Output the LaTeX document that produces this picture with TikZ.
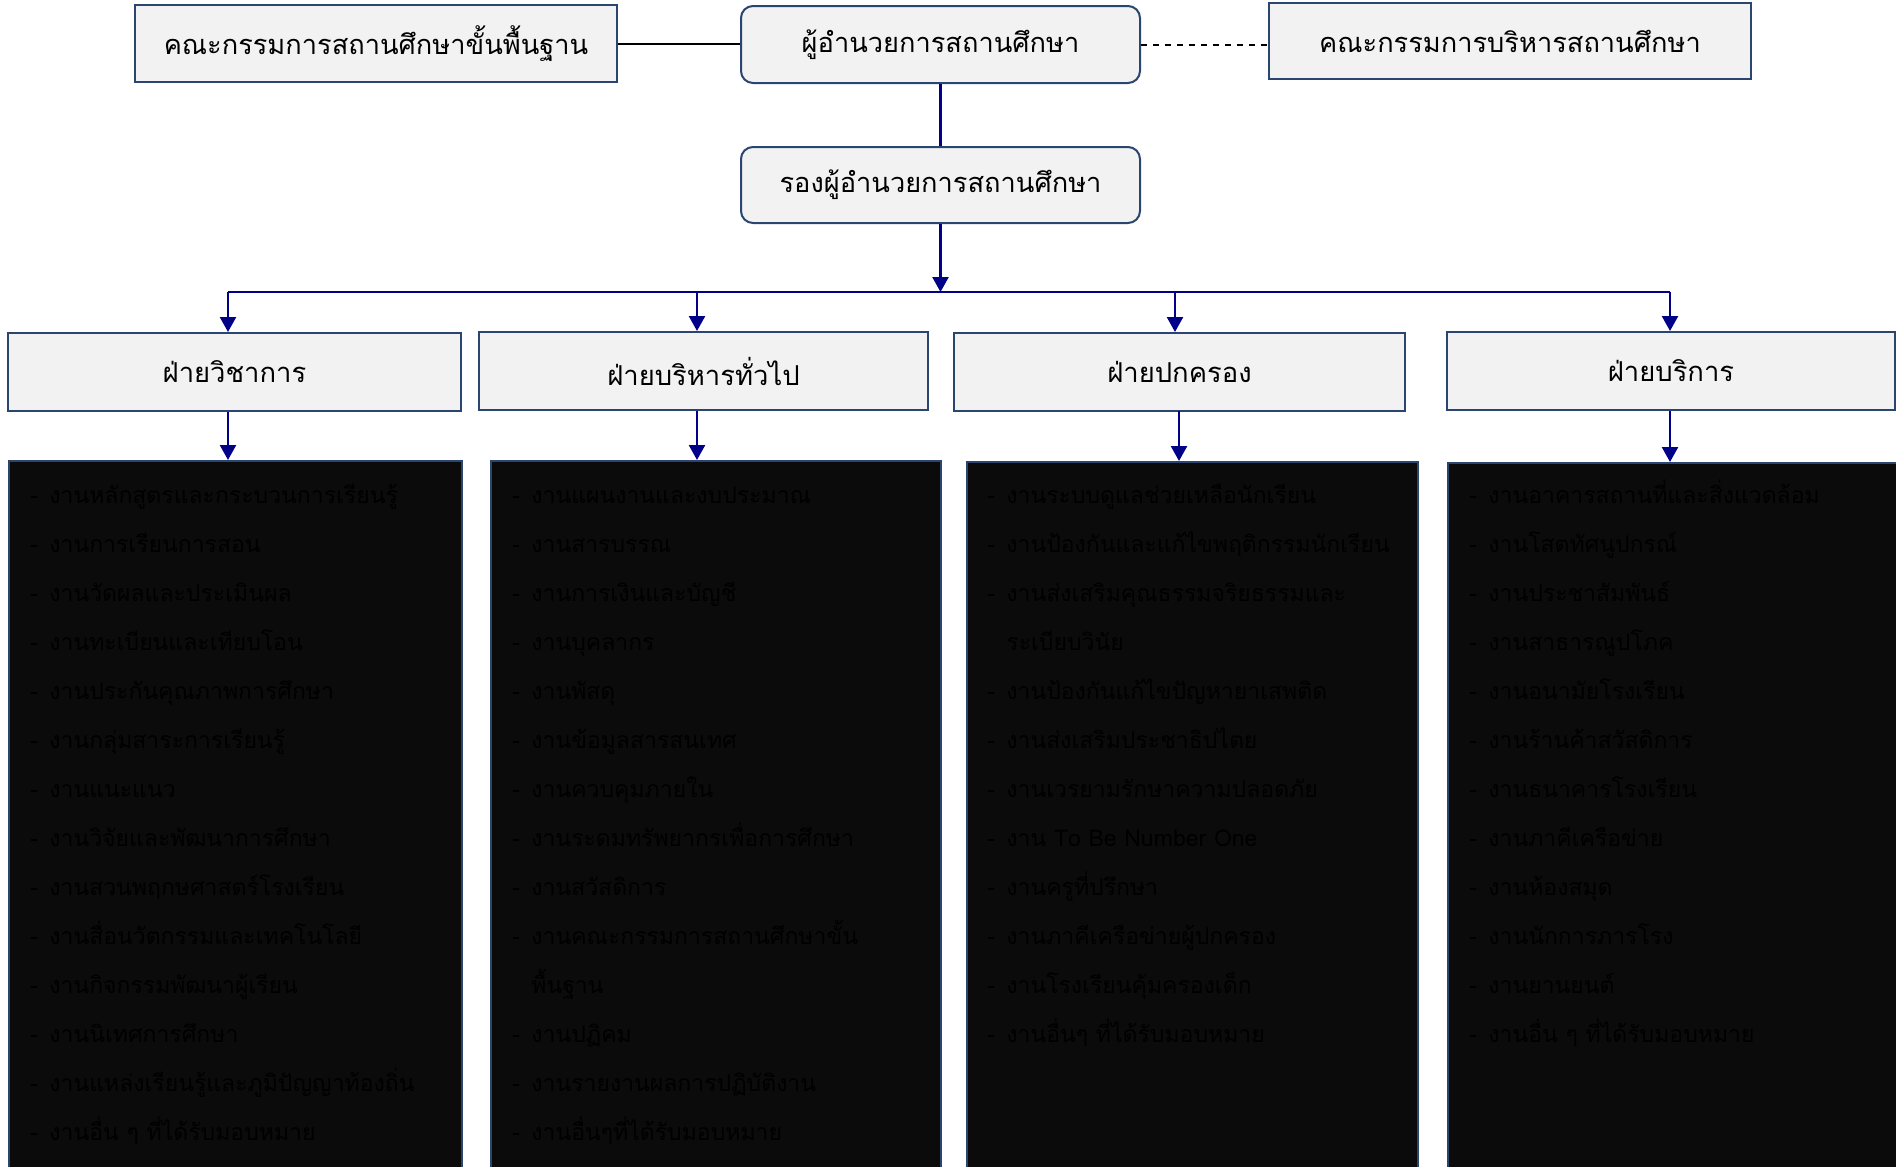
\documentclass[tikz,border=0pt]{standalone}
\usepackage{fontspec}
\setmainfont{Loma}[Script=Thai]
\usetikzlibrary{arrows.meta}
\definecolor{boxfill}{HTML}{F2F2F2}
\definecolor{boxline}{HTML}{2A4670}
\definecolor{connc}{HTML}{000088}
\definecolor{listfill}{HTML}{0B0B0B}
\newcommand\dsh{\makebox[9.5pt][l]{-}}
\newcommand\ndsh{\hspace*{9.5pt}}
\tikzset{
  topbox/.style={rectangle, fill=boxfill, draw=boxline, line width=1pt, inner sep=0pt,
    font=\fontsize{13.6pt}{16pt}\selectfont, text=black},
  roundbox/.style={topbox, rounded corners=6pt},
  divbox/.style={topbox, minimum height=39pt, font=\fontsize{13.7pt}{16pt}\selectfont},
  listbox/.style={rectangle, fill=listfill, draw=boxline, line width=0.8pt, inner sep=0pt, anchor=north west},
  item/.style={anchor=base west, inner sep=0pt, text=black, font=\fontsize{11.5pt}{14pt}\selectfont},
  plainline/.style={draw=black, line width=1pt},
  dashline/.style={draw=black, line width=1pt, dash pattern=on 3pt off 3pt},
  conn/.style={draw=connc, line width=1.2pt},
  arr/.style={conn, -{Triangle[length=7.5pt,width=8pt]}, fill=connc}
}
\begin{document}
\begin{tikzpicture}[x=0.5pt,y=-0.5pt]
\clip (0,0) rectangle (1896,1167);
\fill[white] (0,0) rectangle (1896,1167);

% top row
\node[topbox, minimum width=241pt, minimum height=38.5pt] (A) at (376,43.5) {คณะกรรมการสถานศึกษาขั้นพื้นฐาน};
\node[roundbox, minimum width=199.5pt, minimum height=38.5pt] (D) at (940.5,44.5) {ผู้อำนวยการสถานศึกษา};
\node[topbox, minimum width=241pt, minimum height=38pt] (C) at (1510,41) {คณะกรรมการบริหารสถานศึกษา};
\node[roundbox, minimum width=199.5pt, minimum height=38pt] (V) at (940.5,185) {รองผู้อำนวยการสถานศึกษา};

\draw[plainline] (A.east) -- (A.east -| D.west);
\draw[dashline] (D.east) -- (D.east -| C.west);
\draw[conn] (D.south) -- (V.north);

% bus
\coordinate (bus) at (940.5,292);
\coordinate (b1) at (228,292);
\coordinate (b2) at (697,292);
\coordinate (b3) at (1175,292);
\coordinate (b4) at (1670,292);
\draw[arr] (V.south) -- (bus);
\draw[conn] (b1) -- (b4);

% divisions
\node[divbox, minimum width=226.5pt] (F1) at (234.5,372) {ฝ่ายวิชาการ};
\node[divbox, minimum width=224.5pt] (F2) at (703.5,371) {ฝ่ายบริหารทั่วไป};
\node[divbox, minimum width=225.5pt] (F3) at (1179.5,372) {ฝ่ายปกครอง};
\node[divbox, minimum width=224pt] (F4) at (1671,371) {ฝ่ายบริการ};

\draw[arr] (b1) -- (b1 |- F1.north);
\draw[arr] (b2) -- (b2 |- F2.north);
\draw[arr] (b3) -- (b3 |- F3.north);
\draw[arr] (b4) -- (b4 |- F4.north);

% lists
\node[listbox, minimum width=226.5pt, minimum height=365pt] (L1) at (8,460) {};
\node[listbox, minimum width=225pt, minimum height=365pt] (L2) at (490,460) {};
\node[listbox, minimum width=225.5pt, minimum height=365pt] (L3) at (966,461) {};
\node[listbox, minimum width=230pt, minimum height=365pt] (L4) at (1447,462) {};

\draw[arr] (F1.south -| b1) -- (b1 |- L1.north);
\draw[arr] (F2.south -| b2) -- (b2 |- L2.north);
\coordinate (c3) at (1179,411);
\draw[arr] (c3) -- (c3 |- L3.north);
\draw[arr] (F4.south -| b4) -- (b4 |- L4.north);

\foreach \t [count=\i] in {
  \dsh งานหลักสูตรและกระบวนการเรียนรู้,
  \dsh งานการเรียนการสอน,
  \dsh งานวัดผลและประเมินผล,
  \dsh งานทะเบียนและเทียบโอน,
  \dsh งานประกันคุณภาพการศึกษา,
  \dsh งานกลุ่มสาระการเรียนรู้,
  \dsh งานแนะแนว,
  \dsh งานวิจัยและพัฒนาการศึกษา,
  \dsh งานสวนพฤกษศาสตร์โรงเรียน,
  \dsh งานสื่อนวัตกรรมและเทคโนโลยี,
  \dsh งานกิจกรรมพัฒนาผู้เรียน,
  \dsh งานนิเทศการศึกษา,
  \dsh งานแหล่งเรียนรู้และภูมิปัญญาท้องถิ่น,
  \dsh งานอื่น ๆ ที่ได้รับมอบหมาย}
  \node[item] (pa\i) at (30,{503+49*(\i-1)}) {\t};

\foreach \t [count=\i] in {
  \dsh งานแผนงานและงบประมาณ,
  \dsh งานสารบรรณ,
  \dsh งานการเงินและบัญชี,
  \dsh งานบุคลากร,
  \dsh งานพัสดุ,
  \dsh งานข้อมูลสารสนเทศ,
  \dsh งานควบคุมภายใน,
  \dsh งานระดมทรัพยากรเพื่อการศึกษา,
  \dsh งานสวัสดิการ,
  \dsh งานคณะกรรมการสถานศึกษาขั้น,
  \ndsh พื้นฐาน,
  \dsh งานปฏิคม,
  \dsh งานรายงานผลการปฏิบัติงาน,
  \dsh งานอื่นๆที่ได้รับมอบหมาย}
  \node[item] (pb\i) at (512,{503+49*(\i-1)}) {\t};

\foreach \t [count=\i] in {
  \dsh งานระบบดูแลช่วยเหลือนักเรียน,
  \dsh งานป้องกันและแก้ไขพฤติกรรมนักเรียน,
  \dsh งานส่งเสริมคุณธรรมจริยธรรมและ,
  \ndsh ระเบียบวินัย,
  \dsh งานป้องกันแก้ไขปัญหายาเสพติด,
  \dsh งานส่งเสริมประชาธิปไตย,
  \dsh งานเวรยามรักษาความปลอดภัย,
  \dsh งาน To Be Number One,
  \dsh งานครูที่ปรึกษา,
  \dsh งานภาคีเครือข่ายผู้ปกครอง,
  \dsh งานโรงเรียนคุ้มครองเด็ก,
  \dsh งานอื่นๆ ที่ได้รับมอบหมาย}
  \node[item] (pc\i) at (987,{503+49*(\i-1)}) {\t};

\foreach \t [count=\i] in {
  \dsh งานอาคารสถานที่และสิ่งแวดล้อม,
  \dsh งานโสตทัศนูปกรณ์,
  \dsh งานประชาสัมพันธ์,
  \dsh งานสาธารณูปโภค,
  \dsh งานอนามัยโรงเรียน,
  \dsh งานร้านค้าสวัสดิการ,
  \dsh งานธนาคารโรงเรียน,
  \dsh งานภาคีเครือข่าย,
  \dsh งานห้องสมุด,
  \dsh งานนักการภารโรง,
  \dsh งานยานยนต์,
  \dsh งานอื่น ๆ ที่ได้รับมอบหมาย}
  \node[item] (pd\i) at (1469,{503+49*(\i-1)}) {\t};
\end{tikzpicture}
\end{document}
